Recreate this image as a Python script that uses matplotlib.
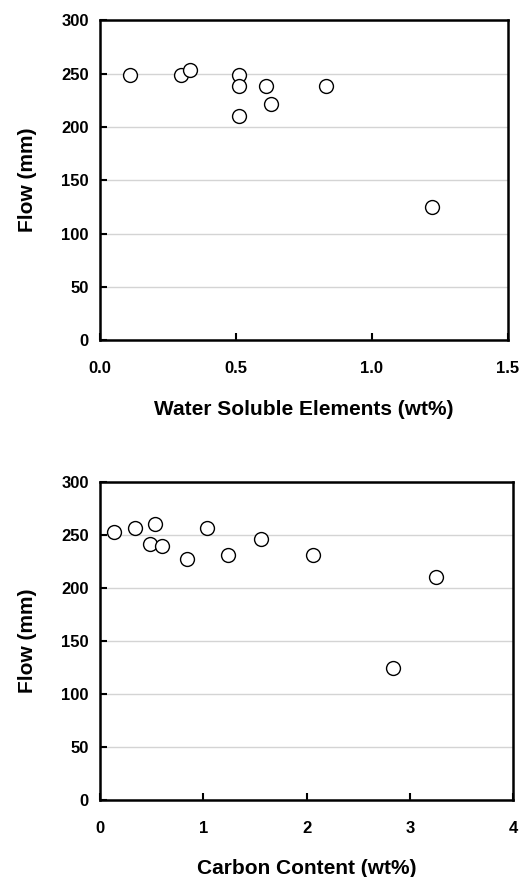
import matplotlib
matplotlib.use('Agg')
import matplotlib.pyplot as plt

plt.rcParams['font.family'] = ['Liberation Sans', 'DejaVu Sans']
plt.rcParams['font.weight'] = 'bold'

# water soluble elements (wt%) vs flow (mm)
wse_x = [0.11, 0.30, 0.33, 0.51, 0.51, 0.51, 0.61, 0.63, 0.83, 1.22]
wse_flow = [249, 249, 253, 249, 238, 210, 238, 221, 238, 125]

# carbon content (wt%) vs flow (mm)
carbon_x = [0.14, 0.34, 0.53, 0.49, 0.60, 0.84, 1.04, 1.24, 1.56, 2.06, 2.84, 3.25]
carbon_flow = [253, 257, 261, 242, 240, 228, 257, 231, 246, 231, 125, 211]

y_ticks = [0, 50, 100, 150, 200, 250, 300]
wse_ticks = [0.0, 0.5, 1.0, 1.5]
wse_tick_labels = ['0.0', '0.5', '1.0', '1.5']
carbon_ticks = [0, 1, 2, 3, 4]
carbon_tick_labels = ['0', '1', '2', '3', '4']


def style_axes(ax, xticks, xlabels, xlim, xlabel):
    ax.set_xlim(*xlim)
    ax.set_ylim(0, 300)
    ax.set_xticks(xticks)
    ax.set_xticklabels(xlabels)
    ax.set_yticks(y_ticks)
    ax.yaxis.grid(True, color='#d4d4d4', linewidth=1.0)
    ax.set_axisbelow(True)
    for s in ax.spines.values():
        s.set_linewidth(1.8)
        s.set_color('black')
    ax.tick_params(direction='in', length=5, width=1.5, labelsize=12)
    ax.tick_params(axis='x', pad=15)
    ax.tick_params(axis='y', pad=8)
    ax.set_xlabel(xlabel, fontsize=15, fontweight='bold', labelpad=17)
    ax.set_ylabel('Flow (mm)', fontsize=15, fontweight='bold', labelpad=17)


fig = plt.figure(figsize=(5.28, 8.77), dpi=100)
ax1 = fig.add_axes([0.189, 0.612, 0.773, 0.365])
ax2 = fig.add_axes([0.189, 0.088, 0.783, 0.362])

ax1.plot(wse_x, wse_flow, 'o', markersize=10, markerfacecolor='white',
         markeredgecolor='black', markeredgewidth=1.0, linestyle='none')
style_axes(ax1, wse_ticks, wse_tick_labels, (0, 1.5), 'Water Soluble Elements (wt%)')

ax2.plot(carbon_x, carbon_flow, 'o', markersize=10, markerfacecolor='white',
         markeredgecolor='black', markeredgewidth=1.0, linestyle='none')
style_axes(ax2, carbon_ticks, carbon_tick_labels, (0, 4), 'Carbon Content (wt%)')

fig.savefig('out.png', dpi=100)
